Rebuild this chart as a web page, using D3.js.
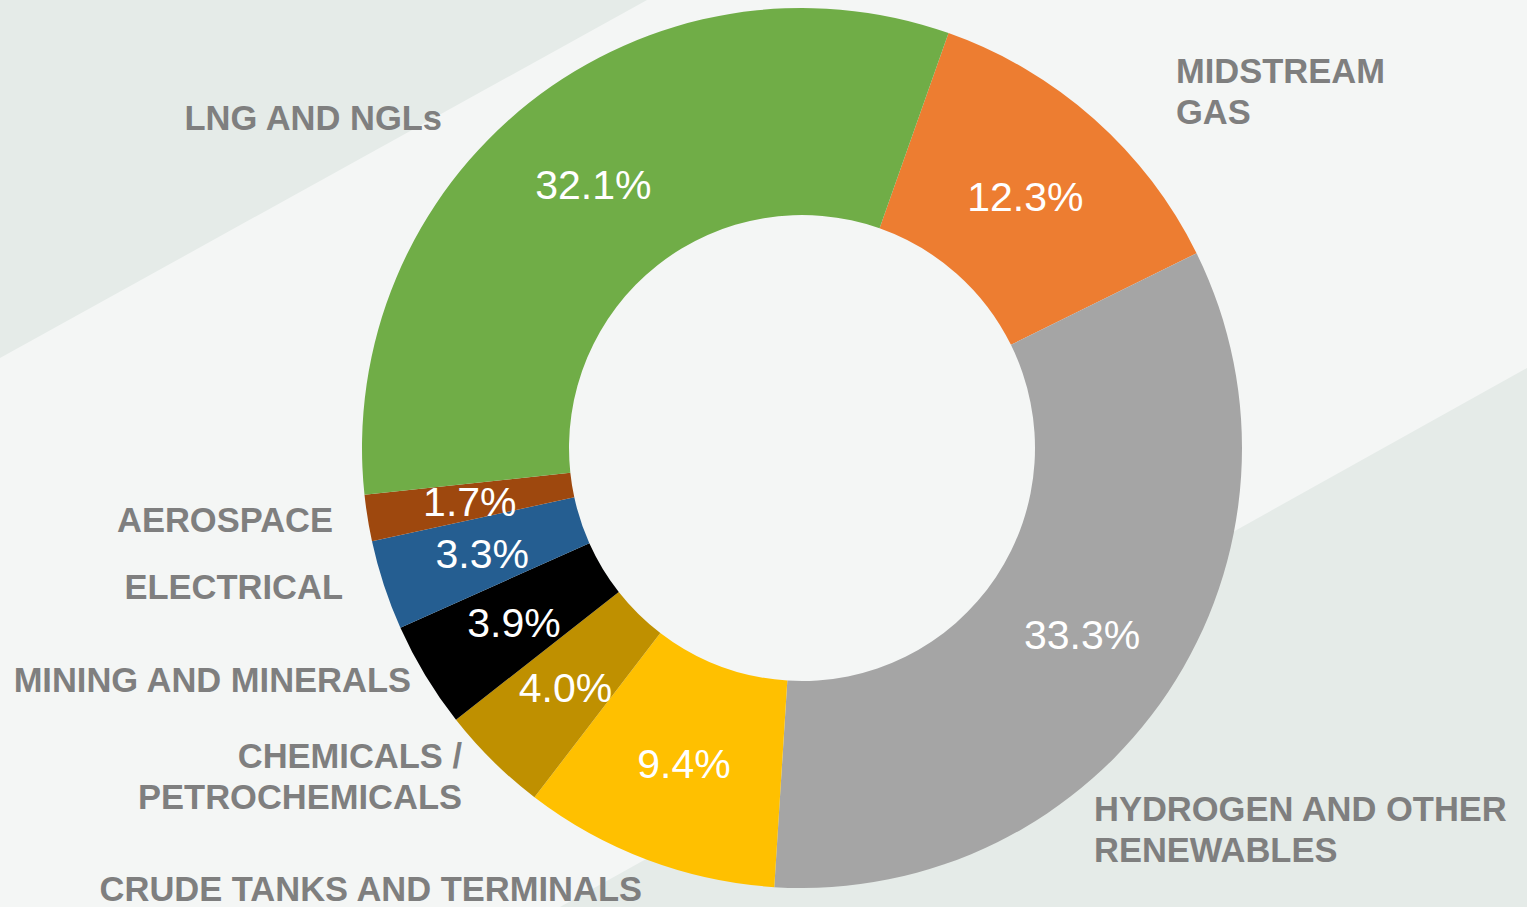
<!DOCTYPE html>
<html>
<head>
<meta charset="utf-8">
<script src="https://cdn.jsdelivr.net/npm/d3@7"></script>
<style>
  html, body { margin: 0; padding: 0; background: #f4f6f5; }
  svg { display: block; }
</style>
</head>
<body>
<script>
// segment names, in the order drawn (clockwise)
var segments = ["MIDSTREAM GAS", "HYDROGEN AND OTHER RENEWABLES", "CRUDE TANKS AND TERMINALS",
    "CHEMICALS / PETROCHEMICALS", "MINING AND MINERALS", "ELECTRICAL", "AEROSPACE", "LNG AND NGLs"];
var shares = [12.3, 33.3, 9.4, 4.0, 3.9, 3.3, 1.7, 32.1];
// how each name is broken into lines on the chart
var labelLines = [["MIDSTREAM", "GAS"], ["HYDROGEN AND OTHER", "RENEWABLES"], ["CRUDE TANKS AND TERMINALS"],
    ["CHEMICALS /", "PETROCHEMICALS"], ["MINING AND MINERALS"], ["ELECTRICAL"], ["AEROSPACE"], ["LNG AND NGLs"]];

var colors = ["#ed7d31", "#a5a5a5", "#ffc000", "#bf9000", "#000000", "#255e91", "#9e480e", "#70ad47"];

// where the outside labels sit (x, first baseline, anchor)
var labelPos = [
    [1176, 83, "start"], [1094, 821, "start"], [642, 901, "end"],
    [462, 768, "end"], [411, 692, "end"], [343, 599, "end"], [333, 532, "end"], [442, 130, "end"]
];

var width = 1527, height = 907;
var cx = 802, cy = 448, outerR = 440, innerR = 233;
var startAngle = 19.45 * Math.PI / 180;

var svg = d3.select("body")
    .append("svg")
    .attr("width", width)
    .attr("height", height);

svg.append("rect")
    .attr("width", width)
    .attr("height", height)
    .attr("fill", "#f4f6f5");

// diagonal background bands
svg.append("path")
    .attr("d", "M0,0 L647,0 L0,358 Z")
    .attr("fill", "#e5ebe8");
svg.append("path")
    .attr("d", "M1527,368 L1527,907 L560,907 Z")
    .attr("fill", "#e5ebe8");

var pie = d3.pie()
    .sort(null)
    .value(function(d) { return d; })
    .startAngle(startAngle)
    .endAngle(startAngle + 2 * Math.PI);

var arc = d3.arc()
    .innerRadius(innerR)
    .outerRadius(outerR);

var arcs = pie(shares);

var g = svg.append("g")
    .attr("transform", "translate(" + cx + "," + cy + ")");

g.selectAll(".slice")
    .data(arcs)
    .enter()
    .append("path")
    .attr("class", "slice")
    .attr("d", arc)
    .attr("fill", function(d, i) { return colors[i]; });

g.selectAll(".pct")
    .data(arcs)
    .enter()
    .append("text")
    .attr("class", "pct")
    .attr("transform", function(d) { return "translate(" + arc.centroid(d) + ")"; })
    .attr("text-anchor", "middle")
    .attr("dy", "0.36em")
    .attr("fill", "#ffffff")
    .style("font-family", "'Liberation Sans', Arial, sans-serif")
    .style("font-size", "41px")
    .text(function(d) { return d.data.toFixed(1) + "%"; });

// outside category labels
segments.forEach(function(name, i) {
    var p = labelPos[i];
    var t = svg.append("text")
        .attr("x", p[0])
        .attr("y", p[1])
        .attr("text-anchor", p[2])
        .attr("fill", "#7f7f7f")
        .style("font-family", "'Liberation Sans', Arial, sans-serif")
        .style("font-weight", "bold")
        .style("font-size", "34.5px");
    labelLines[i].forEach(function(line, j) {
        t.append("tspan")
            .attr("x", p[0])
            .attr("dy", j === 0 ? 0 : 41)
            .text(line);
    });
});
</script>
</body>
</html>
